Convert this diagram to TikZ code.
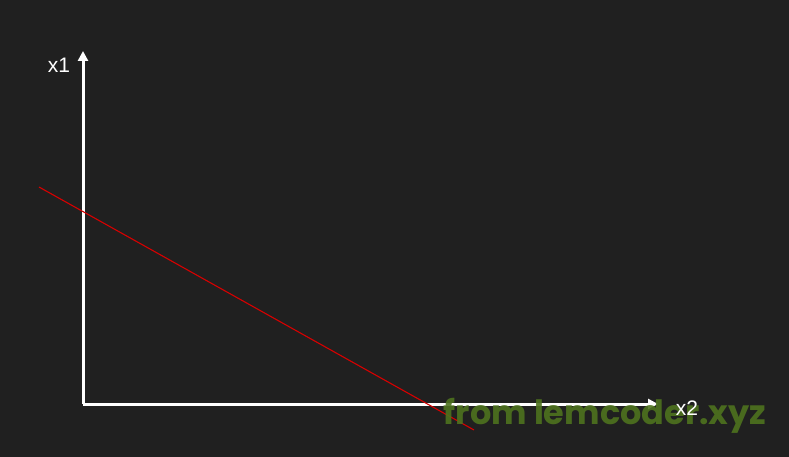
\documentclass[tikz,border=0pt]{standalone}
\usepackage{fontspec}
\setmainfont{Liberation Sans}
\newfontfamily\wmfont{Poppins}
\usetikzlibrary{arrows.meta}
\definecolor{board}{RGB}{32,32,32}
\definecolor{wmgreen}{RGB}{78,115,30}
\definecolor{redline}{RGB}{215,0,0}
\begin{document}
\begin{tikzpicture}[x=1pt,y=-1pt,
  axis/.style={draw=white,line width=3pt,-{Triangle[length=10pt,width=10pt]}},
  axlabel/.style={text=white,font=\fontsize{21}{24}\selectfont,inner sep=0pt},
  wm/.style={text=wmgreen,font=\wmfont\bfseries\fontsize{33.5}{36}\selectfont,inner sep=0pt,opacity=0.9}]
\fill[board] (0,0) rectangle (789,457);
\useasboundingbox (0,0) rectangle (789,457);
\coordinate (O) at (83,404);
\coordinate (Ytop) at (83,51);
\coordinate (Xend) at (658,404);
\coordinate (R1) at (39,187);
\coordinate (R2) at (474,430);
\draw[axis] (O) -- (Ytop);
\draw[axis] (O) -- (Xend);
\draw[redline,line width=1.1pt] (R1) -- (R2);
\node[axlabel] (lx1) at (59,65) {x1};
\node[wm] (wmark) at (605,416) {from lemcoder.xyz};
\node[axlabel] (lx2) at (687,408) {x2};
\end{tikzpicture}
\end{document}
